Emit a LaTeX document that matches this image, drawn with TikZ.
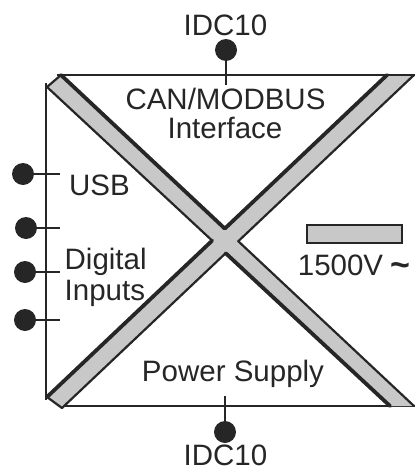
\documentclass[tikz,border=0pt]{standalone}
\usepackage{fontspec}
\setmainfont{Liberation Sans}
\definecolor{inkc}{HTML}{262626}
\definecolor{bandc}{HTML}{C8C8C8}
\begin{document}
\begin{tikzpicture}[x=1pt,y=-1pt,
  ink/.style={draw=inkc, line width=2.2pt},
  thickedge/.style={draw=inkc, line width=3.8pt, line cap=round},
  thinedge/.style={draw=inkc, line width=2.2pt, line cap=round},
  dot/.style={circle, fill=inkc, minimum size=22pt, inner sep=0pt},
  lbl/.style={font=\fontsize{29.5}{34}\selectfont, text=inkc, inner sep=0pt},
  hvbox/.style={draw=inkc, line width=2.2pt, fill=bandc, minimum width=95pt, minimum height=18pt, inner sep=0pt},
]
\useasboundingbox (0,0) rectangle (415,471);
% band corners
\coordinate (b1a) at (61,75);
\coordinate (b1b) at (414,406);
\coordinate (b1c) at (47,87);
\coordinate (b1d) at (390,406);
\coordinate (b2a) at (387,75);
\coordinate (b2b) at (47,397);
\coordinate (b2c) at (414,75);
\coordinate (b2d) at (62,408);
\coordinate (nt) at (intersection of b1a--b1b and b2a--b2b);
\coordinate (nl) at (intersection of b1c--b1d and b2a--b2b);
\coordinate (nr) at (intersection of b1a--b1b and b2c--b2d);
\coordinate (nb) at (intersection of b1c--b1d and b2c--b2d);
% frame
\coordinate (ftl) at (57,75);
\coordinate (ftr) at (414,75);
\coordinate (flt) at (46,83);
\coordinate (flb) at (46,400);
\coordinate (fbl) at (62,406);
\coordinate (fbr) at (414,406);
\draw[ink] (ftl) -- (ftr);
\draw[ink] (flt) -- (flb);
\draw[ink] (fbl) -- (fbr);
% bands
\fill[bandc] (b1c) -- (b1a) -- (b1b) -- (b1d) -- cycle;
\fill[bandc] (b2a) -- (b2c) -- (b2d) -- (b2b) -- cycle;
\draw[thickedge] (b1a) -- (nt);
\draw[thickedge] (b2a) -- (nt);
\draw[thickedge] (nb) -- (b1d);
\draw[thickedge] (nl) -- (b2b);
\draw[thinedge] (nr) -- (b1b);
\draw[thinedge] (b1c) -- (nl);
\draw[thinedge] (b2c) -- (nr);
\draw[thinedge] (nb) -- (b2d);
\draw[thinedge] (b1c) -- (b1a);
\draw[thinedge] (b2a) -- (b2c);
\draw[thinedge] (b2b) -- (b2d);
% top connector
\node[dot] (dT) at (226,50) {};
\coordinate (sT) at (226,85);
\draw[ink] (dT.center) -- (sT);
\node[lbl, anchor=base] (idcT) at (225.5,35) {IDC10};
% bottom connector
\node[dot] (dB) at (225,432) {};
\coordinate (sB) at (225,396);
\draw[ink] (dB.center) -- (sB);
\node[lbl, anchor=base] (idcB) at (225.5,465.5) {IDC10};
% left connectors
\node[dot] (dU) at (23,174) {};
\node[dot] (d1) at (26,228) {};
\node[dot] (d2) at (25,272) {};
\node[dot] (d3) at (25,320) {};
\coordinate (eU) at (60,174);
\coordinate (e1) at (60,228);
\coordinate (e2) at (60,272);
\coordinate (e3) at (60,320);
\draw[ink] (dU.center) -- (eU);
\draw[ink] (d1.center) -- (e1);
\draw[ink] (d2.center) -- (e2);
\draw[ink] (d3.center) -- (e3);
% labels
\node[lbl, anchor=base] (can) at (225.5,109.5) {CAN/MODBUS};
\node[lbl, anchor=base] (intf) at (225,138.5) {Interface};
\node[lbl, anchor=base] (usb) at (99.5,195) {USB};
\node[lbl, anchor=base west] (dig) at (64.5,269) {Digital};
\node[lbl, anchor=base west] (inp) at (64.5,300.5) {Inputs};
\node[lbl, anchor=base] (ps) at (233,381.5) {Power Supply};
% isolation
\node[hvbox] (hv) at (354.5,234) {};
\node[lbl, anchor=base] (hvt) at (340.5,275) {1500V};
\node[text=inkc, inner sep=0pt, anchor=base, font=\bfseries\fontsize{34}{36}\selectfont] (tl) at (400,276) {\textasciitilde};
\end{tikzpicture}
\end{document}
